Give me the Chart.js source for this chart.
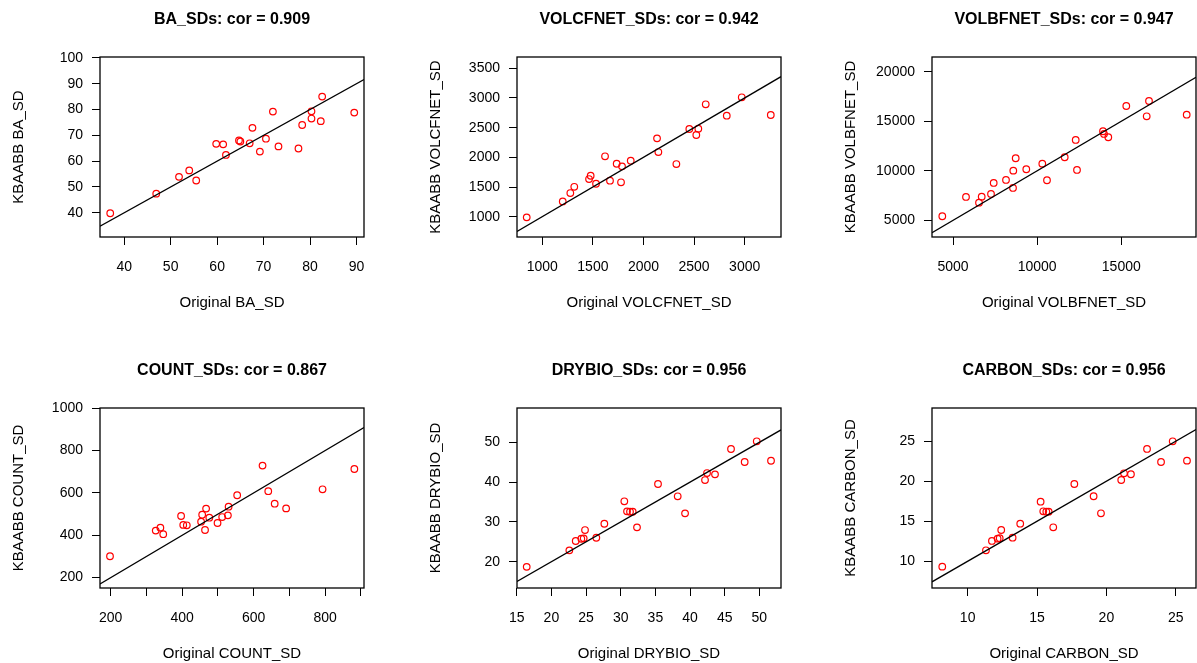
<!DOCTYPE html>
<html>
<head>
<meta charset="utf-8">
<title>KBAABB vs Original SDs</title>
<script src="https://cdn.jsdelivr.net/npm/chart.js@4.4.0/dist/chart.umd.min.js"></script>
<style>
  body { margin: 0; background: #fff; width: 1197px; height: 663px; overflow: hidden; position: relative; }
  .panel { position: absolute; width: 454px; height: 322px; }
</style>
</head>
<body>
<div class="panel" style="left:5px;top:0px"><canvas id="c1" width="454" height="322"></canvas></div>
<div class="panel" style="left:422px;top:0px"><canvas id="c2" width="454" height="322"></canvas></div>
<div class="panel" style="left:837px;top:0px"><canvas id="c3" width="454" height="322"></canvas></div>
<div class="panel" style="left:5px;top:351px"><canvas id="c4" width="454" height="322"></canvas></div>
<div class="panel" style="left:422px;top:351px"><canvas id="c5" width="454" height="322"></canvas></div>
<div class="panel" style="left:837px;top:351px"><canvas id="c6" width="454" height="322"></canvas></div>

<script>
// ---- data (x = original SD, y = KBAABB SD) ----
const baOriginal = [37.0, 46.9, 51.8, 54.0, 55.5, 59.8, 61.3, 61.9, 64.7, 65.0, 67.0, 67.6, 69.2, 70.5, 72.0, 73.2, 77.5, 78.3, 80.3, 80.3, 82.3, 82.6, 89.5];
const baKbaabb   = [39.8, 47.4, 53.9, 56.4, 52.5, 66.7, 66.5, 62.4, 68.0, 67.6, 66.9, 72.9, 63.7, 68.7, 79.2, 65.7, 64.9, 74.0, 79.3, 76.5, 75.5, 85.0, 78.8];

const volcOriginal = [846, 1202, 1277, 1316, 1462, 1478, 1531, 1620, 1669, 1735, 1778, 1788, 1874, 2134, 2147, 2325, 2453, 2542, 2522, 2615, 2823, 2971, 3258];
const volcKbaabb   = [989, 1258, 1398, 1504, 1634, 1690, 1555, 2017, 1606, 1892, 1579, 1848, 1943, 2320, 2089, 1887, 2477, 2482, 2376, 2893, 2701, 3011, 2713];

const volbOriginal = [4364, 5772, 6545, 6705, 7258, 7418, 8149, 8565, 8583, 8725, 9355, 10306, 10585, 11637, 12291, 12368, 13913, 13972, 14228, 15297, 16509, 16646, 18886];
const volbKbaabb   = [5410, 7357, 6782, 7388, 7660, 8770, 9073, 8266, 10011, 11262, 10152, 10717, 9042, 11363, 13109, 10082, 13987, 13714, 13381, 16539, 15500, 17044, 15661];

const countOriginal = [198, 326, 339, 347, 397, 403, 413, 453, 456, 464, 467, 476, 499, 512, 528, 530, 554, 625, 641, 659, 691, 793, 882];
const countKbaabb   = [301, 422, 436, 405, 491, 449, 447, 464, 497, 425, 526, 483, 458, 486, 494, 535, 589, 729, 608, 549, 527, 617, 713];

const drybioOriginal = [16.44, 22.59, 23.51, 24.32, 24.66, 24.85, 26.48, 27.64, 30.52, 30.91, 31.34, 31.73, 32.35, 35.38, 38.22, 39.28, 42.16, 42.45, 43.60, 45.91, 47.88, 49.62, 51.68];
const drybioKbaabb   = [18.7, 22.85, 25.2, 25.77, 25.87, 27.95, 26.02, 29.54, 35.17, 32.65, 32.55, 32.55, 28.63, 39.52, 36.43, 32.15, 40.52, 42.28, 41.95, 48.32, 45.05, 50.25, 45.37];

const carbonOriginal = [8.17, 11.32, 11.75, 12.16, 12.31, 12.42, 13.24, 13.79, 15.26, 15.45, 15.67, 15.84, 16.17, 17.69, 19.08, 19.61, 21.07, 21.27, 21.77, 22.93, 23.94, 24.78, 25.81];
const carbonKbaabb   = [9.33, 11.37, 12.54, 12.83, 12.88, 13.91, 12.95, 14.70, 17.45, 16.25, 16.20, 16.20, 14.25, 19.66, 18.13, 16.00, 20.16, 21.00, 20.88, 24.04, 22.41, 25.00, 22.58];

// ---- tick values ----
const baXTicks = [40, 50, 60, 70, 80, 90];
const baYTicks = [40, 50, 60, 70, 80, 90, 100];
const volcXTicks = [1000, 1500, 2000, 2500, 3000];
const volcYTicks = [1000, 1500, 2000, 2500, 3000, 3500];
const volbXTicks = [5000, 10000, 15000];
const volbYTicks = [5000, 10000, 15000, 20000];
const countXTicks = [200, 300, 400, 500, 600, 700, 800, 900];
const countXTickLabels = ['200', '', '400', '', '600', '', '800', ''];
const countYTicks = [200, 400, 600, 800, 1000];
const drybioXTicks = [15, 20, 25, 30, 35, 40, 45, 50];
const drybioYTicks = [20, 30, 40, 50];
const carbonXTicks = [10, 15, 20, 25];
const carbonYTicks = [10, 15, 20, 25];

// ---- axis limits ----
const baXRange = [34.8, 91.6],      baYRange = [30.6, 100.35];
const volcXRange = [750, 3359],     volcYRange = [658, 3690];
const volbXRange = [3752, 19439],   volbYRange = [3315, 21483];
const countXRange = [170, 909],     countYRange = [151, 1001];
const drybioXRange = [15.04, 53.12], drybioYRange = [13.39, 58.62];
const carbonXRange = [7.43, 26.46], carbonYRange = [6.66, 29.16];

const panels = [
  { id: 'c1', name: 'BA', cor: '0.909', x: baOriginal, y: baKbaabb, xr: baXRange, yr: baYRange, xt: baXTicks, yt: baYTicks },
  { id: 'c2', name: 'VOLCFNET', cor: '0.942', x: volcOriginal, y: volcKbaabb, xr: volcXRange, yr: volcYRange, xt: volcXTicks, yt: volcYTicks },
  { id: 'c3', name: 'VOLBFNET', cor: '0.947', x: volbOriginal, y: volbKbaabb, xr: volbXRange, yr: volbYRange, xt: volbXTicks, yt: volbYTicks },
  { id: 'c4', name: 'COUNT', cor: '0.867', x: countOriginal, y: countKbaabb, xr: countXRange, yr: countYRange, xt: countXTicks, yt: countYTicks, xl: countXTickLabels },
  { id: 'c5', name: 'DRYBIO', cor: '0.956', x: drybioOriginal, y: drybioKbaabb, xr: drybioXRange, yr: drybioYRange, xt: drybioXTicks, yt: drybioYTicks },
  { id: 'c6', name: 'CARBON', cor: '0.956', x: carbonOriginal, y: carbonKbaabb, xr: carbonXRange, yr: carbonYRange, xt: carbonXTicks, yt: carbonYTicks }
];

Chart.defaults.font.family = "'Liberation Sans', Arial, sans-serif";
Chart.defaults.color = '#000';

// box around the plot region, like R's bty = "o"
const plotBox = {
  id: 'plotBox',
  afterDraw(chart) {
    const a = chart.chartArea;
    const ctx = chart.ctx;
    ctx.save();
    ctx.strokeStyle = '#000';
    ctx.lineWidth = 1.3;
    ctx.strokeRect(a.left, a.top, a.right - a.left, a.bottom - a.top);
    ctx.restore();
  }
};

panels.forEach(p => {
  const points = p.x.map((v, i) => ({ x: v, y: p.y[i] }));
  // 1:1 line across the whole x range
  const oneToOne = p.xr.map(v => ({ x: v, y: v }));

  new Chart(document.getElementById(p.id), {
    type: 'scatter',
    data: {
      datasets: [
        { data: oneToOne, showLine: true, borderColor: '#000', borderWidth: 1.3, pointRadius: 0 },
        { data: points, pointStyle: 'circle', pointRadius: 3.3, borderWidth: 1.2,
          borderColor: '#ff0000', backgroundColor: 'rgba(0,0,0,0)' }
      ]
    },
    options: {
      responsive: false,
      animation: false,
      events: [],
      layout: { padding: 0 },
      plugins: {
        legend: { display: false },
        tooltip: { enabled: false },
        title: {
          display: true,
          text: p.name + '_SDs: cor = ' + p.cor,
          font: { size: 16, weight: 'bold' },
          padding: { top: 10, bottom: 27.8 }
        }
      },
      scales: {
        x: {
          type: 'linear',
          min: p.xr[0], max: p.xr[1],
          afterFit: s => { s.height = 85; },
          afterBuildTicks: s => { s.ticks = p.xt.map(v => ({ value: v })); },
          ticks: {
            autoSkip: false, maxRotation: 0, padding: 14, font: { size: 14 },
            callback: (v, i) => p.xl ? p.xl[i] : String(v)
          },
          grid: { drawOnChartArea: false, tickLength: 8, color: '#000' },
          border: { display: false },
          title: { display: true, text: 'Original ' + p.name + '_SD', font: { size: 15 }, padding: { top: 0, bottom: 10 } }
        },
        y: {
          type: 'linear',
          min: p.yr[0], max: p.yr[1],
          afterFit: s => { s.width = 95; },
          afterBuildTicks: s => { s.ticks = p.yt.map(v => ({ value: v })); },
          ticks: { autoSkip: false, padding: 9, font: { size: 14 }, callback: v => String(v) },
          grid: { drawOnChartArea: false, tickLength: 8, color: '#000' },
          border: { display: false },
          title: { display: true, text: 'KBAABB ' + p.name + '_SD', font: { size: 15 }, padding: { top: 5, bottom: 0 } }
        },
        // empty right margin so the panel title centres over the plot box
        margin: {
          type: 'linear',
          position: 'right',
          afterFit: s => { s.width = 95; },
          ticks: { display: false },
          grid: { display: false },
          border: { display: false }
        }
      }
    },
    plugins: [plotBox]
  });
});
</script>
</body>
</html>
